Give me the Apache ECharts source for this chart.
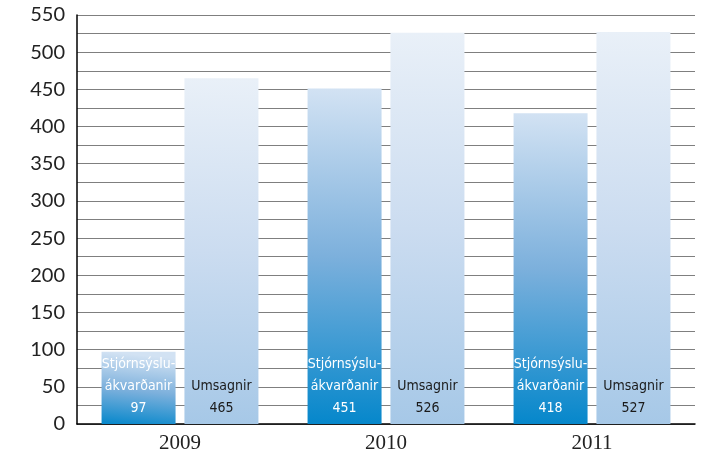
<!DOCTYPE html>
<html>
<head>
<meta charset="utf-8">
<script src="https://cdn.jsdelivr.net/npm/echarts@6/dist/echarts.min.js"></script>
<style>
html,body{margin:0;padding:0;background:#fff;}
#chart{width:713px;height:457px;}
</style>
</head>
<body>
<div id="chart"></div>
<script>
const years = ['2009', '2010', '2011'];
const stjornName = 'Stjórnsýsluákvarðanir';
const stjornLabelLines = ['Stjórnsýslu-', 'ákvarðanir'];
const stjornValues = [97, 451, 418];
const umsagnirName = 'Umsagnir';
const umsagnirValues = [465, 526, 527];
const yMin = 0, yMax = 550, yStep = 25, yLabelStep = 50;

const chart = echarts.init(document.getElementById('chart'));
const grad = (top, mid, bottom) => new echarts.graphic.LinearGradient(0.1, 0, 0, 1, [
  {offset: 0, color: top}, {offset: 0.5, color: mid}, {offset: 1, color: bottom}
]);
const labelBase = {
  show: true,
  position: 'insideBottom',
  distance: 5,
  fontFamily: '"Liberation Sans Narrow", "DejaVu Sans Condensed", sans-serif',
  fontSize: 14,
  lineHeight: 22,
  align: 'center'
};
chart.setOption({
  animation: false,
  backgroundColor: '#fff',
  grid: {left: 77, right: 18, top: 15, bottom: 33},
  xAxis: {
    type: 'category',
    data: years,
    axisLine: {lineStyle: {color: '#000', width: 1.5}},
    axisTick: {show: false},
    axisLabel: {fontFamily: '"Liberation Serif", serif', fontSize: 21, color: '#222', margin: 9}
  },
  yAxis: {
    type: 'value',
    min: yMin, max: yMax, interval: yStep,
    axisLine: {show: true, lineStyle: {color: '#000', width: 1.5}},
    axisTick: {show: false},
    splitLine: {lineStyle: {color: '#7f7f7f', width: 1}},
    axisLabel: {
      fontFamily: 'Lato, "Open Sans", sans-serif', fontSize: 20, color: '#222', margin: 12,
      formatter: v => (v % yLabelStep === 0 ? String(v) : '')
    }
  },
  series: [
    {
      name: stjornName,
      type: 'bar',
      data: stjornValues,
      barWidth: 74,
      barGap: '12%',
      itemStyle: {color: grad('#d2e2f3', '#7cb0dc', '#0587cb')},
      label: Object.assign({}, labelBase, {
        color: '#fff',
        formatter: p => stjornLabelLines.join('\n') + '\n' + p.value
      })
    },
    {
      name: umsagnirName,
      type: 'bar',
      data: umsagnirValues,
      barWidth: 74,
      itemStyle: {color: grad('#e9f0f8', '#cbdcf0', '#a6c8e7')},
      label: Object.assign({}, labelBase, {
        color: '#1a1a1a',
        formatter: p => umsagnirName + '\n' + p.value
      })
    }
  ]
});
</script>
</body>
</html>
